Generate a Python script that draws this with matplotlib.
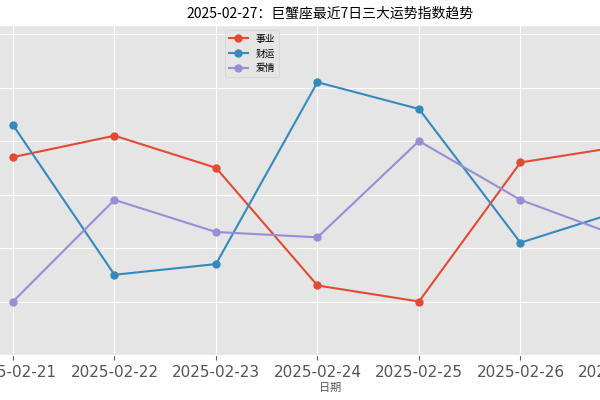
import matplotlib
matplotlib.use('Agg')
import matplotlib.pyplot as plt

plt.style.use('ggplot')
plt.rcParams['font.family'] = ['Noto Sans CJK SC', 'DejaVu Sans']

dates = ['2025-02-21', '2025-02-22', '2025-02-23', '2025-02-24',
         '2025-02-25', '2025-02-26', '2025-02-27']
career = [87, 91, 85, 63, 60, 86, 89]
wealth = [93, 65, 67, 101, 96, 71, 77]
love = [60, 79, 73, 72, 90, 79, 72]

fig = plt.figure(figsize=(6, 4), dpi=100)
# the original chart is cropped, axes spill past the figure edges
ax = fig.add_axes([-0.1, 0.1125, 1.3, 0.825])
x = list(range(len(dates)))
ax.plot(x, career, marker='o', markersize=5, label='事业')
ax.plot(x, wealth, marker='o', markersize=5, label='财运')
ax.plot(x, love, marker='o', markersize=5, label='爱情')

ax.set_xticks(x)
ax.set_xticklabels(dates, fontsize=11, family='DejaVu Sans')
ax.set_xlim(-0.719, 6.966)
ax.set_ylim(50.6, 111.7)
ax.set_yticks([50, 60, 70, 80, 90, 100, 110])
ax.set_yticklabels([])
ax.tick_params(axis='y', length=0)
ax.set_xlabel('日期', fontsize=8, labelpad=2)
ax.set_title('2025-02-27：巨蟹座最近7日三大运势指数趋势', fontsize=10, pad=5)
ax.legend(loc='upper center', bbox_to_anchor=(0.4, 1.0), fontsize=7)

fig.savefig('out.png', dpi=100)
